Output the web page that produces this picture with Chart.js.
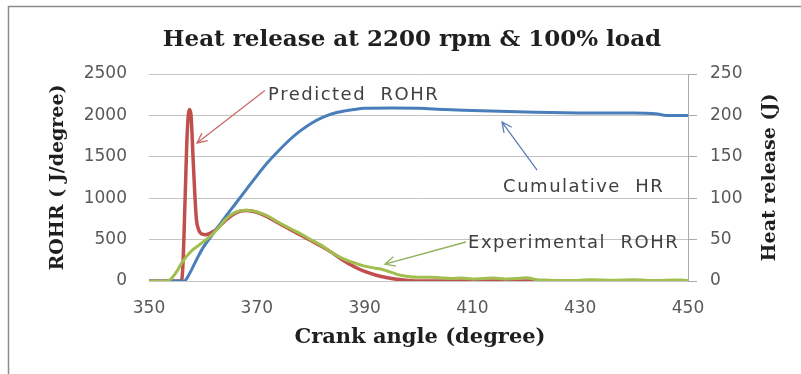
<!DOCTYPE html>
<html>
<head>
<meta charset="utf-8">
<script src="https://cdn.jsdelivr.net/npm/chart.js@4.4.1/dist/chart.umd.min.js"></script>
<style>
  html, body { margin: 0; padding: 0; background: #fff; }
  #wrap { width: 801px; height: 374px; }
</style>
</head>
<body>
<div id="wrap"><canvas id="hrChart" width="801" height="374"></canvas></div>
<script>
// axis ticks
var angleTicks = [350, 370, 390, 410, 430, 450];
var rohrTicks = [0, 500, 1000, 1500, 2000, 2500];
var hrTicks = [0, 50, 100, 150, 200, 250];

// predicted rate of heat release (J/degree)
var predAngle = [350, 356, 356.3, 356.7, 357.1, 357.5, 357.8, 358.2, 358.5, 358.8, 359.2, 359.7, 360.5, 362, 364, 366, 368, 370, 372, 374, 376, 378, 380, 382, 384, 386, 388, 390, 392, 394, 396, 398, 400, 450];
var predRohr = [0, 0, 200, 1000, 1800, 2070, 2000, 1450, 1050, 740, 620, 570, 560, 600, 720, 820, 850, 830, 775, 700, 630, 560, 490, 420, 340, 250, 175, 115, 72, 42, 20, 7, 0, 0];

// experimental rate of heat release (J/degree)
var expAngle = [350, 353, 354, 355, 356, 357, 358, 359, 360, 361, 362, 363, 364, 365, 366, 367, 368, 369, 370, 372, 374, 376, 378, 380, 382, 384, 386, 388, 390, 392, 393, 394, 395, 396, 398, 400, 402, 404, 406, 408, 410, 412, 414, 416, 418, 420, 422, 424, 428, 432, 436, 440, 444, 448, 450];
var expRohr = [0, 0, 20, 100, 210, 300, 370, 420, 470, 520, 580, 650, 730, 790, 830, 850, 855, 850, 835, 785, 710, 640, 575, 500, 430, 340, 270, 220, 180, 155, 145, 125, 105, 80, 55, 45, 45, 40, 30, 35, 25, 30, 35, 25, 30, 40, 15, 10, 5, 15, 8, 14, 6, 12, 5];

// cumulative heat release (J)
var hrAngle = [350, 356.5, 357, 358, 359, 360, 362, 364, 366, 368, 370, 372, 374, 376, 378, 380, 382, 384, 386, 388, 390, 395, 400, 405, 410, 415, 420, 430, 440, 444, 446, 450];
var cumHr = [0, 0, 3, 15, 28, 40, 58, 76, 93, 110, 127, 143, 157, 170, 181, 190, 197, 202, 205, 207, 208.5, 209, 208.5, 207, 206, 205, 204, 203, 203, 202, 200, 200];

function toPoints(xs, ys) {
    return xs.map(function (x, i) { return { x: x, y: ys[i] }; });
}

function plainLabel(v) { return String(v); }

var tickFont = { family: 'DejaVu Sans', size: 17 };
var serifBold = 'DejaVu Serif';

// callouts: text, text anchor, arrow start, arrow end (data coords)
var notes = [
    { text: 'Predicted  ROHR', axis: 'y', at: [372.1, 2246], from: [371.5, 2300], to: [358.9, 1667], color: '#C96B68' },
    { text: 'Cumulative  HR', axis: 'y1', at: [415.7, 113.5], from: [422.0, 134], to: [415.5, 192], color: '#5B7FB5' },
    { text: 'Experimental  ROHR', axis: 'y', at: [409.2, 459], from: [408.8, 471], to: [393.8, 205], color: '#8FB05A' }
];

var decorPlugin = {
    id: 'decor',
    beforeDraw: function (chart) {
        var ctx = chart.ctx;
        ctx.save();
        ctx.fillStyle = '#fff';
        ctx.fillRect(0, 0, chart.width, chart.height);
        // outer frame
        ctx.strokeStyle = '#8c8c8c';
        ctx.lineWidth = 1.5;
        ctx.beginPath();
        ctx.moveTo(8.5, chart.height);
        ctx.lineTo(8.5, 6.5);
        ctx.lineTo(chart.width, 6.5);
        ctx.stroke();
        ctx.restore();
    },
    afterDraw: function (chart) {
        var ctx = chart.ctx;
        var area = chart.chartArea;
        ctx.save();
        // main title
        ctx.fillStyle = '#1f1f1f';
        ctx.font = 'bold 23px "' + serifBold + '"';
        ctx.textAlign = 'center';
        ctx.textBaseline = 'middle';
        ctx.fillText('Heat release at 2200 rpm & 100% load', 412, 40);

        // x axis title
        ctx.font = 'bold 21px "' + serifBold + '"';
        ctx.fillText('Crank angle (degree)', 420, 338);

        // right axis title, reading upward
        ctx.save();
        ctx.translate(770, (area.top + area.bottom) / 2);
        ctx.rotate(-Math.PI / 2);
        ctx.font = 'bold 19px "' + serifBold + '"';
        ctx.fillText('Heat release (J)', 0, 0);
        ctx.restore();

        // callouts
        var sx = chart.scales.x;
        notes.forEach(function (n) {
            var sy = chart.scales[n.axis];
            var x1 = sx.getPixelForValue(n.from[0]), y1 = sy.getPixelForValue(n.from[1]);
            var x2 = sx.getPixelForValue(n.to[0]), y2 = sy.getPixelForValue(n.to[1]);
            ctx.strokeStyle = n.color;
            ctx.lineWidth = 1.3;
            ctx.beginPath();
            ctx.moveTo(x1, y1);
            ctx.lineTo(x2, y2);
            var ang = Math.atan2(y2 - y1, x2 - x1);
            var len = 11;
            ctx.moveTo(x2 - len * Math.cos(ang - 0.45), y2 - len * Math.sin(ang - 0.45));
            ctx.lineTo(x2, y2);
            ctx.lineTo(x2 - len * Math.cos(ang + 0.45), y2 - len * Math.sin(ang + 0.45));
            ctx.stroke();

            ctx.fillStyle = '#404040';
            ctx.font = '18px "DejaVu Sans"';
            ctx.letterSpacing = '1.5px';
            ctx.textAlign = 'left';
            ctx.textBaseline = 'middle';
            ctx.fillText(n.text, sx.getPixelForValue(n.at[0]), sy.getPixelForValue(n.at[1]));
            ctx.letterSpacing = '0px';
        });
        ctx.restore();
    }
};

var ctxH = document.getElementById('hrChart').getContext('2d');
var hrChart = new Chart(ctxH, {
    type: 'line',
    data: {
        datasets: [
            {
                label: 'Experimental ROHR',
                data: toPoints(expAngle, expRohr),
                borderColor: '#A2BE4E',
                borderWidth: 3,
                yAxisID: 'y'
            },
            {
                label: 'Cumulative HR',
                data: toPoints(hrAngle, cumHr),
                borderColor: '#4A7EBB',
                borderWidth: 3,
                yAxisID: 'y1'
            },
            {
                label: 'Predicted ROHR',
                data: toPoints(predAngle, predRohr),
                borderColor: '#C0504D',
                borderWidth: 3.5,
                yAxisID: 'y'
            }
        ]
    },
    options: {
        responsive: false,
        animation: false,
        parsing: false,
        elements: {
            point: { radius: 0 },
            line: { cubicInterpolationMode: 'monotone', fill: false }
        },
        layout: { padding: { top: 74, left: 0, right: 0, bottom: 0 } },
        plugins: {
            legend: { display: false },
            tooltip: { enabled: false },
            title: { display: false }
        },
        scales: {
            x: {
                type: 'linear',
                min: angleTicks[0],
                max: angleTicks[angleTicks.length - 1],
                afterBuildTicks: function (axis) {
                    axis.ticks = angleTicks.map(function (v) { return { value: v }; });
                },
                afterFit: function (axis) { axis.height = 93; },
                grid: { display: false, drawTicks: false },
                border: { display: false },
                ticks: { font: tickFont, color: '#595959', padding: 17, maxRotation: 0, callback: plainLabel }
            },
            y: {
                position: 'left',
                min: rohrTicks[0],
                max: rohrTicks[rohrTicks.length - 1],
                afterBuildTicks: function (axis) {
                    axis.ticks = rohrTicks.map(function (v) { return { value: v }; });
                },
                afterFit: function (axis) { axis.width = 149; },
                grid: { color: '#C4C4C4', lineWidth: 1, drawTicks: false },
                border: { display: false },
                ticks: { font: tickFont, color: '#595959', padding: 22, callback: plainLabel },
                title: {
                    display: true,
                    text: 'ROHR ( J/degree)',
                    color: '#1f1f1f',
                    font: { family: serifBold, size: 19, weight: 'bold' },
                    padding: { top: 46.6, bottom: 0 }
                }
            },
            y1: {
                position: 'right',
                min: hrTicks[0],
                max: hrTicks[hrTicks.length - 1],
                afterBuildTicks: function (axis) {
                    axis.ticks = hrTicks.map(function (v) { return { value: v }; });
                },
                afterFit: function (axis) { axis.width = 113; },
                grid: { drawOnChartArea: false, drawTicks: true, tickLength: 9, color: '#AAAAAA' },
                border: { display: true, color: '#AAAAAA' },
                ticks: { font: tickFont, color: '#595959', padding: 13, callback: plainLabel }
            }
        }
    },
    plugins: [decorPlugin]
});
</script>
</body>
</html>
